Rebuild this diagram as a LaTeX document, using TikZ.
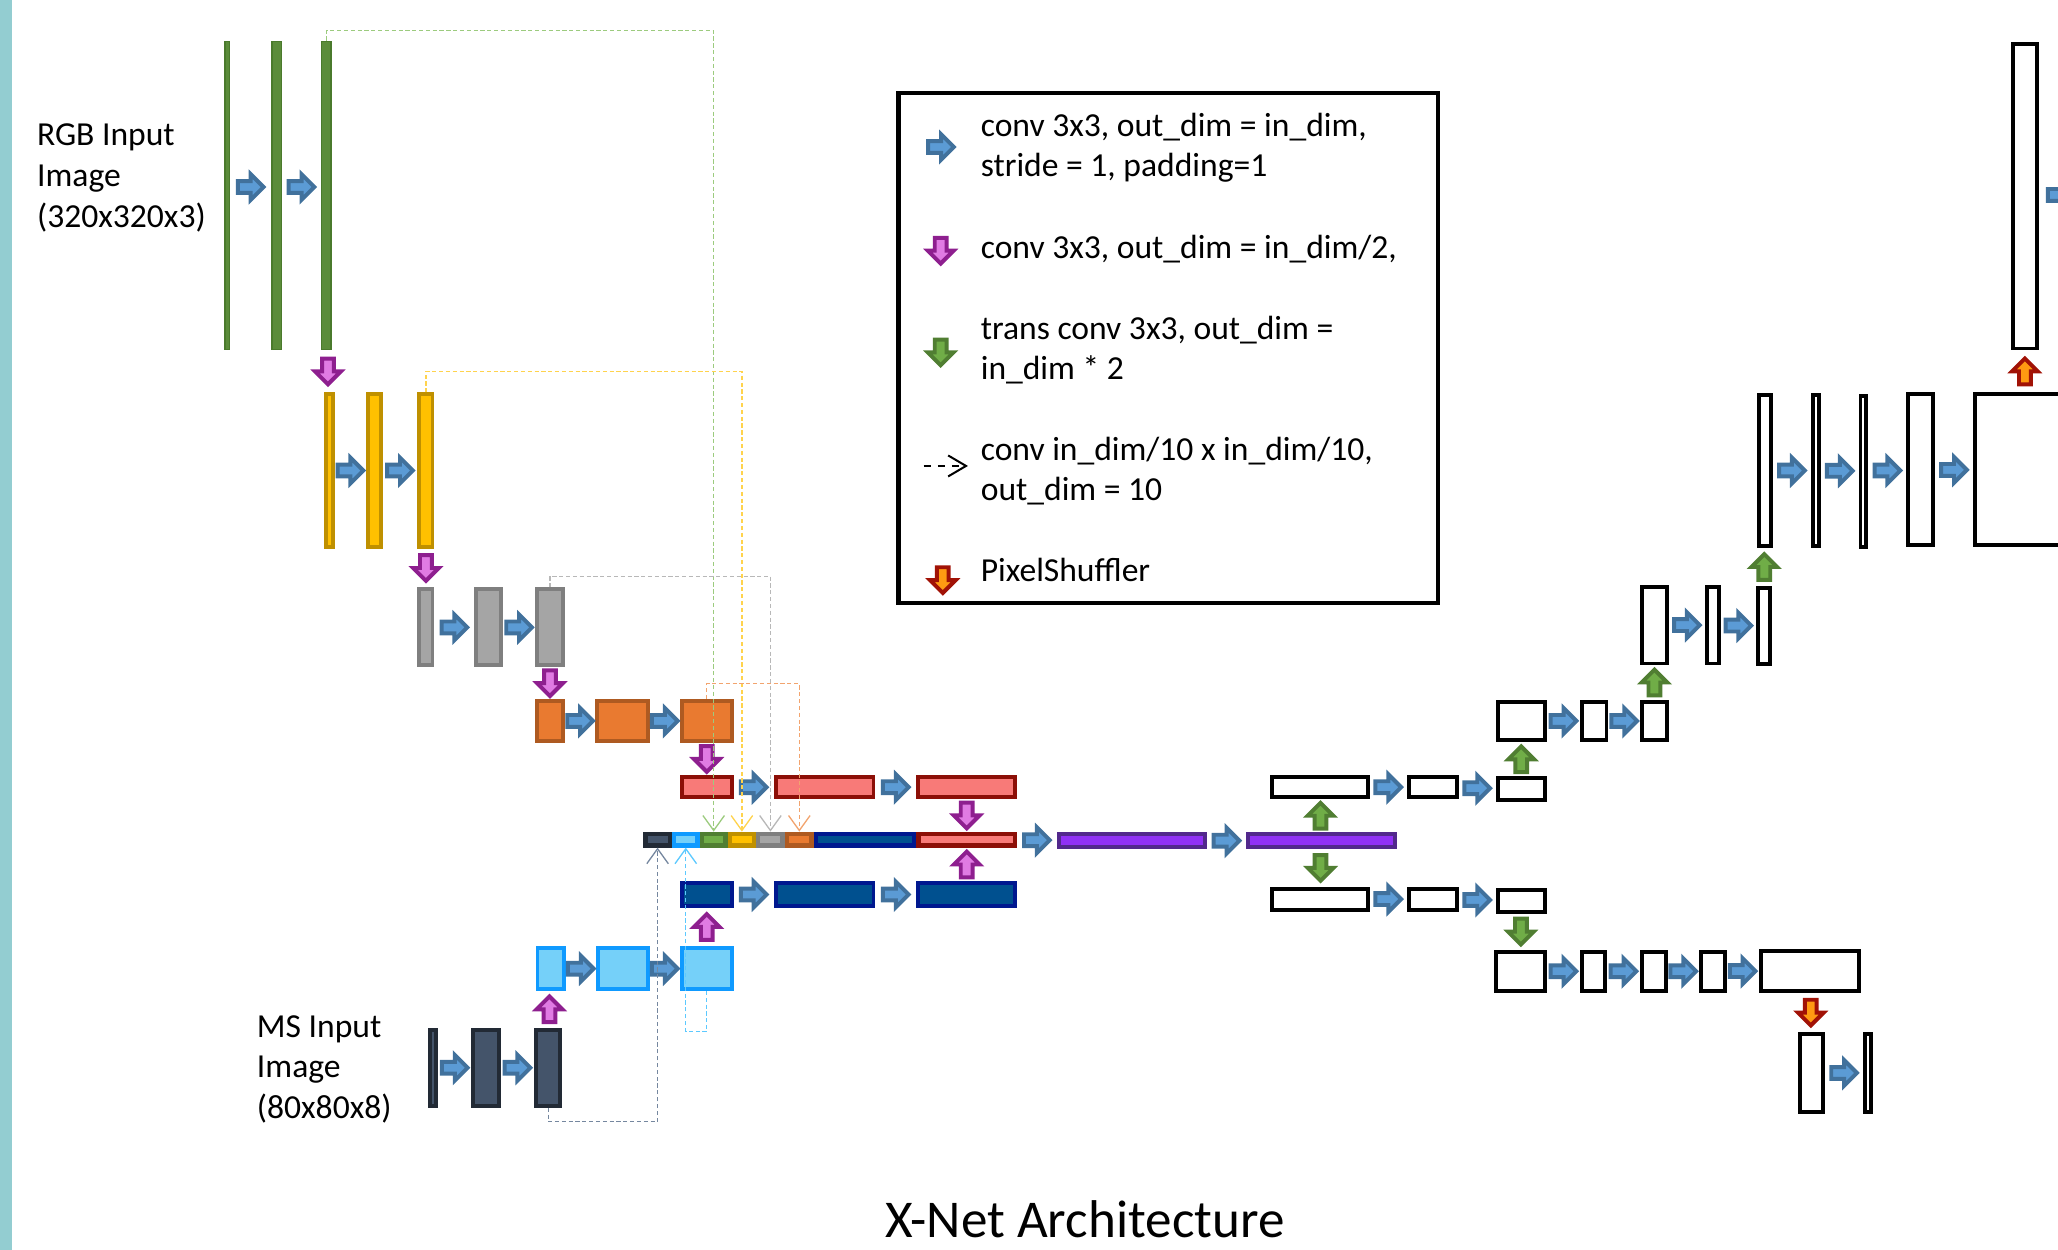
\documentclass[tikz,border=0pt]{standalone}
\usepackage{fontspec}
\setmainfont{Carlito}
\usetikzlibrary{arrows.meta,calc}

\newlength{\pxu}
\setlength{\pxu}{0.25mm}

\definecolor{bandteal}{HTML}{93CDD1}
\definecolor{grnline}{HTML}{4A7A2C}
\definecolor{grnfill}{HTML}{5B8C3A}
\definecolor{ylwline}{HTML}{BF9000}
\definecolor{ylwfill}{HTML}{FFC000}
\definecolor{gryline}{HTML}{7F7F7F}
\definecolor{gryfill}{HTML}{A5A5A5}
\definecolor{orgline}{HTML}{AE5A21}
\definecolor{orgfill}{HTML}{E97A30}
\definecolor{redline}{HTML}{8C0F07}
\definecolor{redfill}{HTML}{F87A78}
\definecolor{navline}{HTML}{00188F}
\definecolor{navfill}{HTML}{00508F}
\definecolor{lbline}{HTML}{0F9AFF}
\definecolor{lbfill}{HTML}{75D0F9}
\definecolor{slline}{HTML}{222A35}
\definecolor{slfill}{HTML}{44546A}
\definecolor{violine}{HTML}{52288C}
\definecolor{viofill}{HTML}{9030F5}
\definecolor{cgnline}{HTML}{507E32}
\definecolor{cgnfill}{HTML}{70AD47}
\definecolor{abline}{HTML}{41719C}
\definecolor{abfill}{HTML}{5B9BD5}
\definecolor{apline}{HTML}{8E1F8F}
\definecolor{apfill}{HTML}{E07BE3}
\definecolor{agline}{HTML}{507E32}
\definecolor{agfill}{HTML}{70AD47}
\definecolor{arline}{HTML}{A11206}
\definecolor{arfill}{HTML}{FF9A12}
\definecolor{dgn}{HTML}{9CCB7E}
\definecolor{dyl}{HTML}{FFD34D}
\definecolor{dgy}{HTML}{B8B8B8}
\definecolor{dor}{HTML}{F2A46E}
\definecolor{ddk}{HTML}{75879F}
\definecolor{dlb}{HTML}{5CC9FF}

\tikzset{
  lyrbox/.style={draw, inner sep=0pt, line width=0.75mm},
  grnbar/.style={lyrbox, draw=grnline, fill=grnfill, line width=0.3mm},
  ylwbox/.style={lyrbox, draw=ylwline, fill=ylwfill},
  grybox/.style={lyrbox, draw=gryline, fill=gryfill},
  orgbox/.style={lyrbox, draw=orgline, fill=orgfill},
  redbox/.style={lyrbox, draw=redline, fill=redfill},
  navbox/.style={lyrbox, draw=navline, fill=navfill},
  lbbox/.style={lyrbox, draw=lbline, fill=lbfill},
  slbox/.style={lyrbox, draw=slline, fill=slfill},
  viobar/.style={lyrbox, draw=violine, fill=viofill},
  decbox/.style={lyrbox, draw=black, fill=white},
  catseg/.style={lyrbox, line width=0.85mm},
  catdk/.style={catseg, draw=slline, fill=slfill},
  catlb/.style={catseg, draw=lbline, fill=lbfill},
  catgn/.style={catseg, draw=cgnline, fill=cgnfill},
  catyl/.style={catseg, draw=ylwline, fill=ylwfill},
  catgy/.style={catseg, draw=gryline, fill=gryfill},
  cator/.style={catseg, draw=orgline, fill=orgfill},
  catnv/.style={catseg, draw=navline, fill=navfill},
  catrd/.style={catseg, draw=redline, fill=redfill},
  blkarrow/.style={line width=0.75mm, line join=miter},
  barrow/.style={blkarrow, draw=abline, fill=abfill},
  parrow/.style={blkarrow, draw=apline, fill=apfill},
  garrow/.style={blkarrow, draw=agline, fill=agfill},
  rarrow/.style={blkarrow, draw=arline, fill=arfill},
  skipline/.style={line width=0.25mm, dash pattern=on 0.8mm off 0.5mm,
    -{Straight Barb[length=2.85mm,width=4.1mm]}},
  skipgn/.style={skipline, draw=dgn},
  skipyl/.style={skipline, draw=dyl},
  skipgy/.style={skipline, draw=dgy},
  skipor/.style={skipline, draw=dor},
  skipdk/.style={skipline, draw=ddk},
  skiplb/.style={skipline, draw=dlb},
  lbl/.style={font=\fontsize{18.2}{22}\selectfont, inner sep=0pt, align=left, anchor=base west},
  lgtxt/.style={lbl, font=\fontsize{18.2}{21.6}\selectfont},
  ttl/.style={font=\fontsize{28.8}{34}\selectfont, inner sep=0pt, anchor=base},
  lgndbox/.style={draw=black, line width=0.82mm, inner sep=0pt},
  lgdash/.style={draw=black, line width=0.38mm, dash pattern=on 1.4mm off 1.3mm,
    -{Straight Barb[length=3.4mm,width=4mm]}},
  band/.style={fill=bandteal, inner sep=0pt, outer sep=0pt}
}

% box from its outer corners (x1,y1)-(x2,y2)
\newcommand{\lyr}[6]{\node[#2, minimum width={(#5-#3)*\pxu-\pgflinewidth},
  minimum height={(#6-#4)*\pxu-\pgflinewidth}] (#1) at ({(#3+#5)/2},{(#4+#6)/2}) {};}
% block arrow: style, centre, angle
\newcommand{\blk}[3]{\path[#1, shift={#2}, rotate=#3] (-9.8,-4.5) -- (0,-4.5) -- (0,-9.8)
  -- (9.8,0) -- (0,9.8) -- (0,4.5) -- (-9.8,4.5) -- cycle;}

\begin{document}
\begin{tikzpicture}[x=0.25mm,y=-0.25mm]
  \useasboundingbox (0,0) rectangle (1568,952);
  \clip (0,0) rectangle (1568,952);
  \node[band, anchor=north west, minimum width=9*\pxu, minimum height=952*\pxu] (band) at (0,0) {};

  % RGB branch
  \lyr{g1}{grnbar}{171}{31}{175.5}{267}
  \lyr{g2}{grnbar}{206.5}{31}{215}{267}
  \lyr{g3}{grnbar}{244.5}{31}{253}{267}
  \lyr{y1}{ylwbox}{247}{299}{255}{418}
  \lyr{y2}{ylwbox}{279}{299}{291.5}{418}
  \lyr{y3}{ylwbox}{318}{299}{331}{418}
  \lyr{gr1}{grybox}{318}{447.5}{331}{508.5}
  \lyr{gr2}{grybox}{361.5}{447.5}{383.5}{508.5}
  \lyr{gr3}{grybox}{407.5}{447.5}{430.5}{508.5}
  \lyr{o1}{orgbox}{407.5}{532.5}{430.5}{566}
  \lyr{o2}{orgbox}{453.5}{532.5}{495}{566}
  \lyr{o3}{orgbox}{518}{532.5}{559}{566}
  \lyr{r1}{redbox}{518}{590.5}{559}{609}
  \lyr{r2}{redbox}{589.5}{590.5}{667}{609}
  \lyr{r3}{redbox}{698}{590.5}{775}{609}

  % concatenation
  \foreach \nm/\st/\xa/\xb in {cdk/catdk/490/512, clb/catlb/512/533, cgn/catgn/533/554.5,
      cyl/catyl/554.5/576, cgy/catgy/576/598, cor/cator/598/620, cnv/catnv/620/698, crd/catrd/698/775}
    {\lyr{\nm}{\st}{\xa}{633.6}{\xb}{645.8}}

  % MS branch
  \lyr{n1}{navbox}{518}{671.5}{559}{691.5}
  \lyr{n2}{navbox}{589.5}{671.5}{667}{691.5}
  \lyr{n3}{navbox}{698}{671.5}{775}{691.5}
  \lyr{b1}{lbbox}{408}{721}{431}{755}
  \lyr{b2}{lbbox}{454}{721}{495}{755}
  \lyr{b3}{lbbox}{518}{721}{559}{755}
  \lyr{m1}{slbox}{326}{783}{334}{844}
  \lyr{m2}{slbox}{359}{783}{381.5}{844}
  \lyr{m3}{slbox}{407}{783}{428.5}{844}

  \lyr{p1}{viobar}{805}{634}{919.5}{647}
  \lyr{p2}{viobar}{949.5}{634}{1064}{647}

  % decoders
  \lyr{u1}{decbox}{967.5}{590.5}{1043.5}{609}
  \lyr{u2}{decbox}{1072}{590.5}{1111.5}{609}
  \lyr{u3}{decbox}{1139.5}{591.5}{1178.5}{611}
  \lyr{v1}{decbox}{1139.5}{533}{1178.5}{565.5}
  \lyr{v2}{decbox}{1204}{533}{1225.5}{565.5}
  \lyr{v3}{decbox}{1249.5}{533}{1271.5}{565.5}
  \lyr{w1}{decbox}{1249.5}{445.5}{1271.5}{507}
  \lyr{w2}{decbox}{1299}{445.5}{1311}{507}
  \lyr{w3}{decbox}{1338}{446.5}{1350}{507.5}
  \lyr{x1}{decbox}{1338.5}{299.5}{1350.5}{417.5}
  \lyr{x2}{decbox}{1380}{299.5}{1387.5}{417.5}
  \lyr{x3}{decbox}{1416}{300}{1423.5}{418}
  \lyr{x4}{decbox}{1452.5}{299}{1474}{417}
  \lyr{x5}{decbox}{1503.5}{299}{1620}{417}
  \lyr{t1}{decbox}{1532}{32}{1553.5}{267}
  \lyr{l1}{decbox}{967.5}{675.5}{1043.5}{694.5}
  \lyr{l2}{decbox}{1072}{675.5}{1111.5}{694.5}
  \lyr{l3}{decbox}{1139.5}{676.5}{1178.5}{696}
  \lyr{d1}{decbox}{1138.5}{723.5}{1178.5}{756.5}
  \lyr{d2}{decbox}{1204}{723.5}{1224.5}{756.5}
  \lyr{d3}{decbox}{1249.5}{723.5}{1270.5}{756.5}
  \lyr{d4}{decbox}{1294.5}{723.5}{1315.5}{756.5}
  \lyr{d5}{decbox}{1340}{723}{1418}{756.5}
  \lyr{e1}{decbox}{1370}{786.5}{1390.5}{848.5}
  \lyr{e2}{decbox}{1419.5}{786.5}{1427}{848.5}

  % conv arrows
  \foreach \a/\b in {g1/g2,g2/g3}
    {\blk{barrow}{($(\a.east)!.5!(\b.west)+(0,-6.5)$)}{0}}
  \foreach \a/\b in {y1/y2,y2/y3,gr1/gr2,gr2/gr3,o1/o2,o2/o3,r1/r2,r2/r3,n1/n2,n2/n3,
      b1/b2,b2/b3,m1/m2,m2/m3,crd/p1,p1/p2,u1/u2,u2/u3,v1/v2,v2/v3,w1/w2,w2/w3,
      x1/x2,x2/x3,x3/x4,x4/x5,l1/l2,l2/l3,d1/d2,d2/d3,d3/d4,d4/d5,e1/e2}
    {\blk{barrow}{($(\a.east)!.5!(\b.west)$)}{0}}
  \blk{barrow}{($(t1.east)+(16.5,-1)$)}{0}
  % stride-2 convs
  \foreach \a/\b in {g3/y1,y3/gr1,gr3/o1,o3/r1,r3/crd}
    {\blk{parrow}{($(\a.south)!.5!(\b.north)$)}{-90}}
  \foreach \a/\b in {n3/crd,b3/n1,m3/b1}
    {\blk{parrow}{($(\a.north)!.5!(\b.south)$)}{90}}
  % transposed convs
  \foreach \a/\b in {p2/u1,u3/v1,v3/w1,w3/x1}
    {\blk{garrow}{($(\a.north)!.5!(\b.south)$)}{90}}
  \foreach \a/\b in {p2/l1,l3/d1}
    {\blk{garrow}{($(\a.south)!.5!(\b.north)$)}{-90}}
  % pixel shuffle
  \blk{rarrow}{($(d5.south)!.5!(e1.north)$)}{-90}
  \blk{rarrow}{($(t1.south)!.5!(t1.south|-x5.north)$)}{90}

  % skip connections into the concatenation
  \draw[skipgn] (g3.north) -- ++(0,-7.5) -| (cgn.north);
  \draw[skipyl] (y3.north) -- ++(0,-16) -| (cyl.north);
  \draw[skipgy] (gr3.north) -- ++(0,-8.5) -| (cgy.north);
  \draw[skipor] (o3.north) -- ++(0,-11.5) -| (cor.north);
  \draw[skipdk] (m3.south) -- ++(0,10.5) -| (cdk.south);
  \draw[skiplb] (b3.south) -- ++(0,31) -| (clb.south);

  % labels (anchored on the last line)
  \node[lbl] (rgb) at (28,173) {RGB Input\\Image\\(320x320x3)};
  \node[lbl] (ms) at (195.5,852) {MS Input\\Image\\(80x80x8)};

  % legend
  \lyr{lgnd}{lgndbox}{683}{69}{1097}{461}
  \coordinate (k1) at (717,112);
  \coordinate (k2) at (716.7,191);
  \coordinate (k3) at (716.7,268.5);
  \coordinate (k4a) at (703.7,355);
  \coordinate (k4b) at (737.5,355);
  \coordinate (k5) at (718.3,442);
  \blk{barrow}{(k1)}{0}
  \blk{parrow}{(k2)}{-90}
  \blk{garrow}{(k3)}{-90}
  \draw[lgdash] (k4a) -- (k4b);
  \blk{rarrow}{(k5)}{-90}
  \node[lgtxt] (k1t) at (747,134.5) {conv 3x3, out\_dim = in\_dim,\\stride = 1, padding=1};
  \node[lgtxt] (k2t) at (747,197) {conv 3x3, out\_dim = in\_dim/2,};
  \node[lgtxt] (k3t) at (747,289) {trans conv 3x3, out\_dim =\\in\_dim * 2};
  \node[lgtxt] (k4t) at (747,381.5) {conv in\_dim/10 x in\_dim/10,\\out\_dim = 10};
  \node[lgtxt] (k5t) at (747,443) {PixelShuffler};

  \node[ttl] (title) at (826.5,943) {X-Net Architecture};
\end{tikzpicture}
\end{document}
